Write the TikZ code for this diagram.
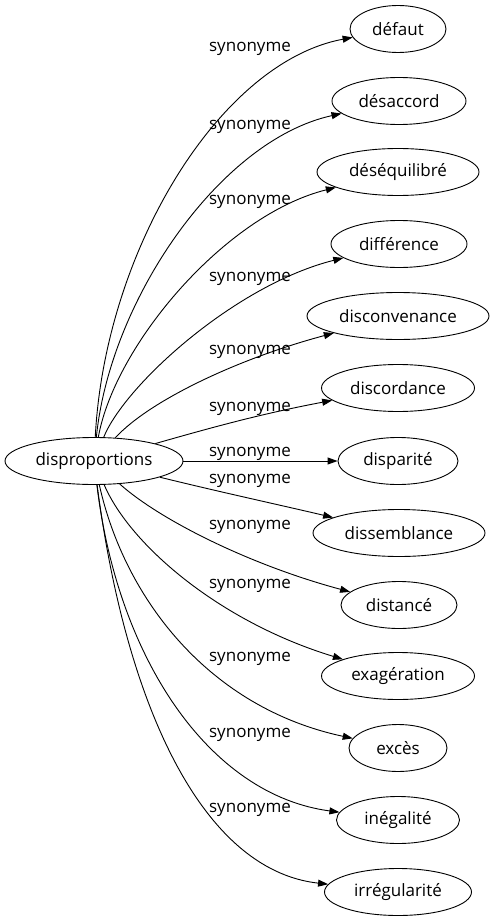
\documentclass[tikz,border=0pt]{standalone}
\usepackage{fontspec}
\setmainfont{Open Sans}
\usetikzlibrary{arrows.meta,shapes.geometric}
\begin{document}
\begin{tikzpicture}[x=1pt,y=-1pt,
  every node/.style={font=\fontsize{17}{20}\selectfont},
  term/.style={ellipse,draw,line width=0.9pt,inner sep=0pt,minimum height=47pt},
  lbl/.style={inner sep=0pt,anchor=base},
  link/.style={line width=0.9pt,-{Triangle[length=10pt,width=7pt]}}]
\useasboundingbox (0,0) rectangle (495,923);
\node[term,minimum width=178pt] (c) at (94,461) {disproportions};
\node[term,minimum width=96pt]  (t1)  at (398,29)  {défaut};
\node[term,minimum width=134pt] (t2)  at (399,101) {désaccord};
\node[term,minimum width=162pt] (t3)  at (398,172) {déséquilibré};
\node[term,minimum width=136pt] (t4)  at (399,244) {différence};
\node[term,minimum width=182pt] (t5)  at (398,316) {disconvenance};
\node[term,minimum width=153pt] (t6)  at (398,388) {discordance};
\node[term,minimum width=120pt] (t7)  at (398,461) {disparité};
\node[term,minimum width=172pt] (t8)  at (399,533) {dissemblance};
\node[term,minimum width=116pt] (t9)  at (399,605) {distancé};
\node[term,minimum width=153pt] (t10) at (398,676) {exagération};
\node[term,minimum width=98pt]  (t11) at (398,748) {excès};
\node[term,minimum width=123pt] (t12) at (398,820) {inégalité};
\node[term,minimum width=147pt] (t13) at (398,892) {irrégularité};

\node[lbl] (l1)  at (250,52)  {synonyme};
\node[lbl] (l2)  at (250,129) {synonyme};
\node[lbl] (l3)  at (250,204) {synonyme};
\node[lbl] (l4)  at (250,281) {synonyme};
\node[lbl] (l5)  at (250,354) {synonyme};
\node[lbl] (l6)  at (250,411) {synonyme};
\node[lbl] (l7)  at (250,456) {synonyme};
\node[lbl] (l8)  at (250,483) {synonyme};
\node[lbl] (l9)  at (250,529) {synonyme};
\node[lbl] (l10) at (250,588) {synonyme};
\node[lbl] (l11) at (250,661) {synonyme};
\node[lbl] (l12) at (250,737) {synonyme};
\node[lbl] (l13) at (250,812) {synonyme};

\draw[link] (c) .. controls (105,250) and (220,62) .. (t1);
\draw[link] (c) .. controls (110,300) and (220,140) .. (t2);
\draw[link] (c) .. controls (115,345) and (225,215) .. (t3);
\draw[link] (c) .. controls (125,385) and (235,285) .. (t4);
\draw[link] (c) .. controls (150,400) and (240,358) .. (t5);
\draw[link] (c) .. controls (210,428) and (260,414) .. (t6);
\draw[link] (c) -- (t7);
\draw[link] (c) .. controls (220,492) and (280,505) .. (t8);
\draw[link] (c) .. controls (160,520) and (250,565) .. (t9);
\draw[link] (c) .. controls (130,545) and (220,622) .. (t10);
\draw[link] (c) .. controls (125,600) and (210,708) .. (t11);
\draw[link] (c) .. controls (118,660) and (210,795) .. (t12);
\draw[link] (c) .. controls (125,700) and (200,870) .. (t13);
\end{tikzpicture}
\end{document}
